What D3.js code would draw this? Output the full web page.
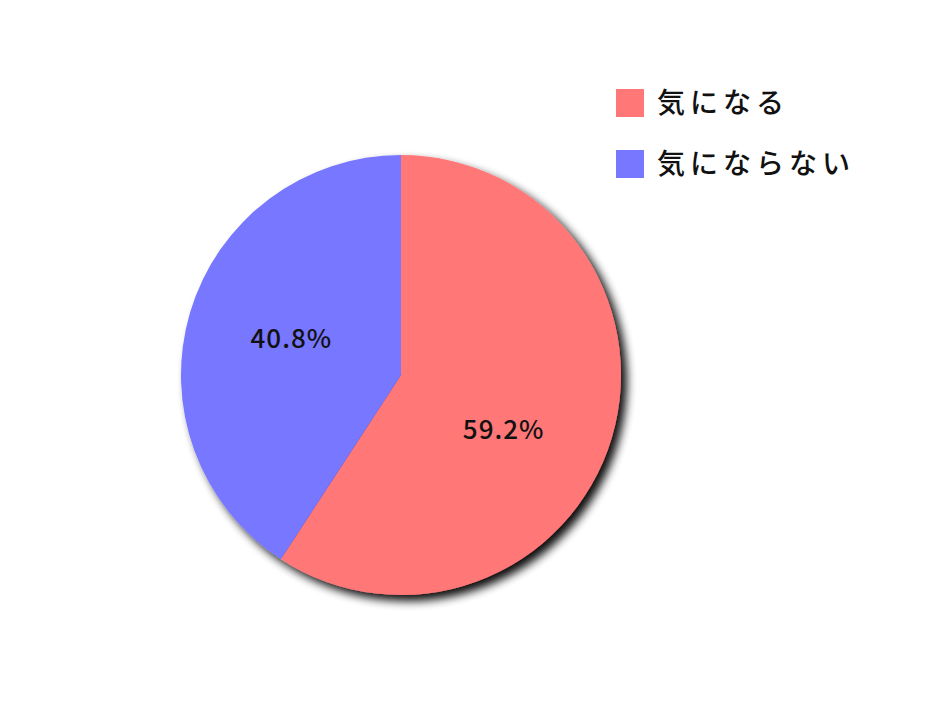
<!DOCTYPE html>
<html>
<head>
<meta charset="utf-8">
<script src="https://cdn.jsdelivr.net/npm/d3@7"></script>
<style>
  body { margin: 0; background: #fff; }
  text { font-family: "Noto Sans CJK JP", "Noto Sans", sans-serif; }
</style>
</head>
<body>
<div id="chart"></div>
<script>
const categories = ["気になる", "気にならない"];
const values = [59.2, 40.8];
const colors = ["#ff7777", "#7777ff"];

const width = 940, height = 705;
const cx = 401, cy = 375, radius = 220;

const svg = d3.select("#chart").append("svg")
  .attr("width", width)
  .attr("height", height);

// drop shadow
const defs = svg.append("defs");
const filter = defs.append("filter")
  .attr("id", "shadow")
  .attr("x", "-20%").attr("y", "-20%")
  .attr("width", "140%").attr("height", "140%");
filter.append("feGaussianBlur").attr("in", "SourceAlpha").attr("stdDeviation", 5).attr("result", "blur");
filter.append("feOffset").attr("in", "blur").attr("dx", 6).attr("dy", 6).attr("result", "off");
filter.append("feComponentTransfer").attr("in", "off").attr("result", "shadowCol")
  .append("feFuncA").attr("type", "linear").attr("slope", 0.95);
const merge = filter.append("feMerge");
merge.append("feMergeNode").attr("in", "shadowCol");
merge.append("feMergeNode").attr("in", "SourceGraphic");

const pie = d3.pie().sort(null).value(d => d);
const arcs = pie(values);
const arc = d3.arc().innerRadius(0).outerRadius(radius);
const labelArc = d3.arc().innerRadius(radius * 0.52).outerRadius(radius * 0.52);

const g = svg.append("g").attr("transform", `translate(${cx},${cy})`);

g.append("g").attr("filter", "url(#shadow)")
  .selectAll("path")
  .data(arcs)
  .join("path")
  .attr("d", arc)
  .attr("fill", (d, i) => colors[i]);

// small nudges so labels sit where the original put them
const labelNudge = [[-7, 22], [0, -4]];

g.selectAll("text.lbl")
  .data(arcs)
  .join("text")
  .attr("class", "lbl")
  .attr("transform", d => {
    const [x, y] = labelArc.centroid(d);
    const [nx, ny] = labelNudge[d.index];
    return `translate(${x + nx},${y + ny})`;
  })
  .attr("text-anchor", "middle")
  .attr("dy", "0.35em")
  .attr("font-size", 26)
  .attr("font-weight", 500)
  .attr("letter-spacing", 1)
  .attr("fill", "#111")
  .text(d => d.data.toFixed(1) + "%");

// legend
const legend = svg.append("g").attr("transform", "translate(616,89)");
const item = legend.selectAll("g")
  .data(categories)
  .join("g")
  .attr("transform", (d, i) => `translate(0,${i * 61})`);
item.append("rect")
  .attr("width", 28).attr("height", 28)
  .attr("fill", (d, i) => colors[i]);
item.append("text")
  .attr("x", 41).attr("y", 14)
  .attr("dy", "0.36em")
  .attr("font-size", 28)
  .attr("font-weight", 500)
  .attr("letter-spacing", 5)
  .attr("fill", "#111")
  .text(d => d);
</script>
</body>
</html>
